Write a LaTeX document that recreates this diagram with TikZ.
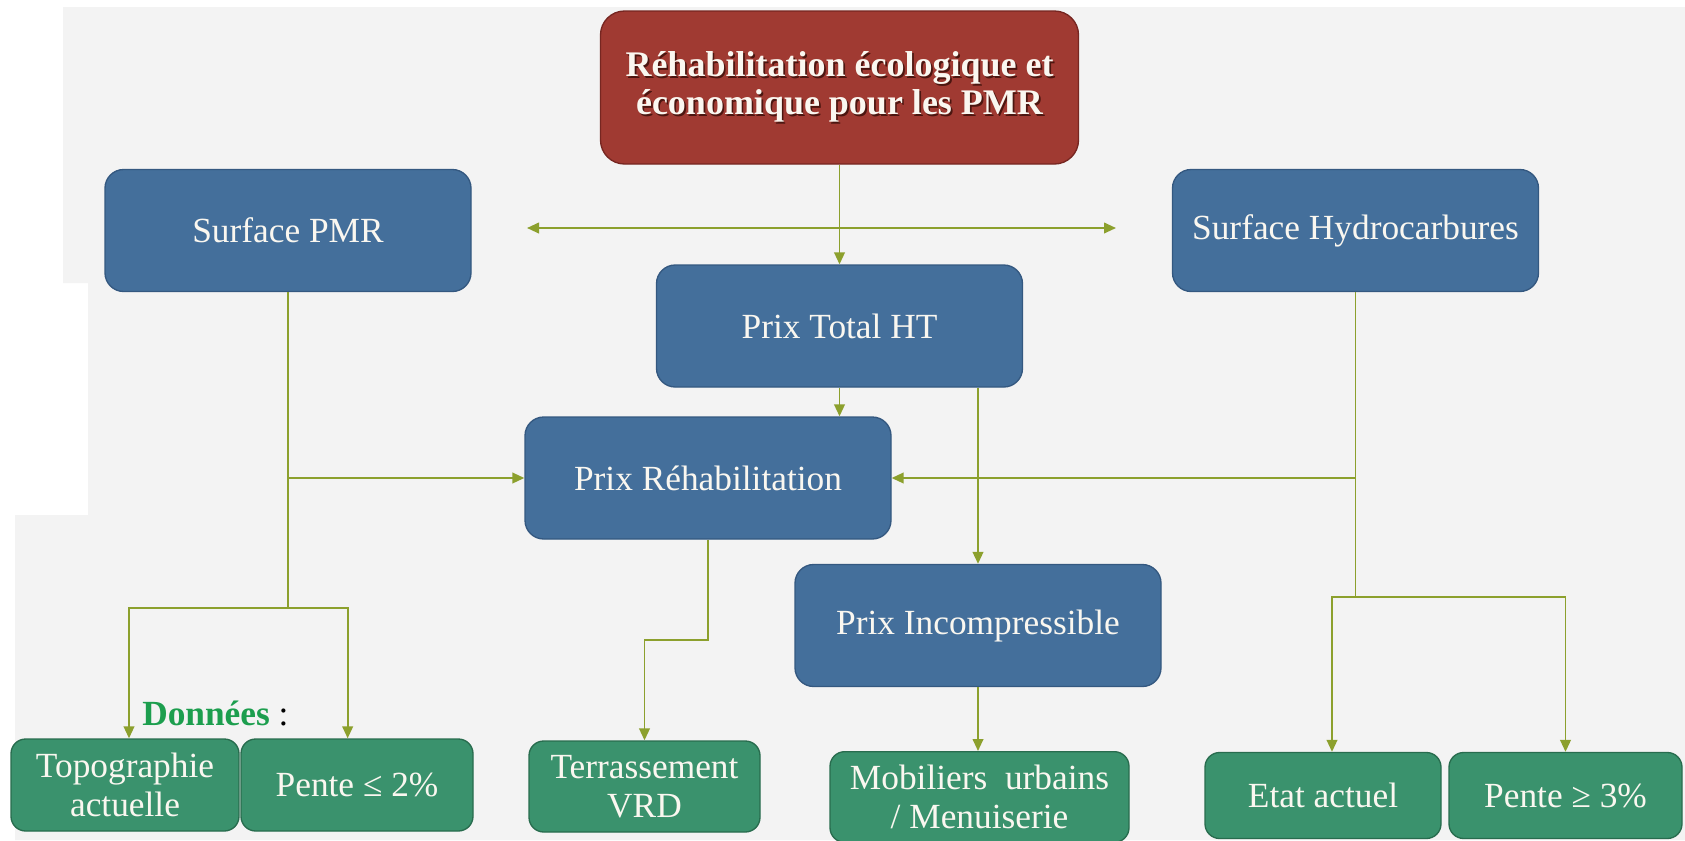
\documentclass[tikz,border=0pt]{standalone}
\usepackage{fontspec}
\setmainfont{Liberation Serif}
\usepackage{xcolor}
\usepackage{tikz}
\usetikzlibrary{arrows.meta}
\usetikzlibrary{calc,positioning}

% texte avec ombre portee (titre)
\newcommand{\ombre}[1]{\makebox[0pt][l]{\hspace{1.3pt}\raisebox{-1.3pt}{\color[RGB]{75,22,16}#1}}#1}

\begin{document}
\begin{tikzpicture}[x=0.75pt,y=0.75pt,yscale=-1,xscale=1,
  >={Triangle[length=9pt,width=8pt]},
  boite/.style={rounded corners=14pt, line width=1pt, inner sep=0pt, align=center,
    text={rgb, 255:red, 250; green, 247; blue, 240}, font=\fontsize{26.5}{29.5}\selectfont},
  titrebox/.style={boite, draw={rgb, 255:red, 118; green, 38; blue, 33}, fill={rgb, 255:red, 160; green, 58; blue, 50},
    rounded corners=18pt, minimum width=358.5pt, minimum height=114.75pt, font=\bfseries\fontsize{27}{28.5}\selectfont},
  bluebox/.style={boite, draw={rgb, 255:red, 52; green, 88; blue, 128}, fill={rgb, 255:red, 68; green, 111; blue, 155},
    minimum width=274.5pt, minimum height=91.5pt},
  greenbox/.style={boite, draw={rgb, 255:red, 40; green, 108; blue, 78}, fill={rgb, 255:red, 58; green, 146; blue, 109},
    rounded corners=11pt, minimum height=68.25pt},
  lien/.style={draw={rgb, 255:red, 140; green, 160; blue, 45}, line width=1.4pt},
  fleche/.style={lien, ->}
  ]
  %uncomment if require: \path (0,840); %diagram 1685 x 840

  % fond
  \fill [white] (0,0) rectangle (1685,840);
  \fill [color={rgb, 255:red, 243; green, 243; blue, 243 }] (63,7) -- (1685,7) -- (1685,840) -- (15,840) -- (15,515) -- (88,515) -- (88,283) -- (63,283) -- cycle;
  \useasboundingbox (0,0) rectangle (1685,840);

  %Rounded Rect (titre)
  \node [titrebox] (titre) at (839.5,87.5) {\ombre{Réhabilitation écologique et}\\\ombre{économique pour les PMR}};

  %Rounded Rect (surfaces et prix)
  \node [bluebox] (surfpmr) at (288,230.5) {Surface PMR};
  \node [bluebox] (surfhydro) at (1355.5,230.5) {Surface Hydrocarbures};
  \node [bluebox] (prixtotal) at (839.5,326) {Prix Total HT};
  \node [bluebox] (prixrehab) at (708,478) {Prix Réhabilitation};
  \node [bluebox] (prixincomp) at (978,625.5) {Prix Incompressible};

  %Rounded Rect (donnees)
  \node [greenbox, minimum width=171pt, minimum height=69pt] (topo) at (125,785) {Topographie\\actuelle};
  \node [greenbox, minimum width=174pt, minimum height=69pt] (pente2) at (357,785) {Pente ≤ 2\%};
  \node [greenbox, minimum width=173.25pt] (terrass) at (644.5,786.5) {Terrassement\\VRD};
  \node [greenbox, minimum width=224.25pt, minimum height=68pt] (mobil) at (979.5,797) {Mobiliers\ \ urbains\\/ Menuiserie};
  \node [greenbox, minimum width=177pt, minimum height=64.5pt] (etat) at (1323,795.5) {Etat actuel};
  \node [greenbox, minimum width=174.75pt, minimum height=64.5pt] (pente3) at (1565.5,795.5) {Pente ≥ 3\%};

  % Text Node
  \node [anchor=base west, inner sep=0pt, font=\fontsize{26.5}{29.5}\selectfont] (donnees) at (142,725) {\textbf{\color[RGB]{28,158,78}Données} :};

  % jonctions
  \coordinate (flecheG) at (527,228);
  \coordinate (flecheD) at (1116,228);
  \coordinate (jPMR) at (288,608);
  \coordinate (jHydro) at (1355.5,597);
  \coordinate (jRehab) at (708,640);

  % liaisons
  \draw [fleche] (titre) -- (prixtotal);
  \draw [lien, <->] (flecheG) -- (flecheD);
  \draw [fleche] (prixtotal.south) -- (prixtotal.south |- prixrehab.north);
  \draw [fleche] (prixincomp.north |- prixtotal.south) -- (prixincomp.north);

  \draw [lien] (surfpmr.south) -- (jPMR);
  \draw [fleche] (surfpmr.south |- prixrehab.west) -- (prixrehab.west);
  \draw [fleche] (jPMR) -| ([xshift=3pt]topo.north);
  \draw [fleche] (jPMR) -| ([xshift=-7pt]pente2.north);

  \draw [lien] (surfhydro.south) -- (jHydro);
  \draw [fleche] (surfhydro.south |- prixrehab.east) -- (prixrehab.east);
  \draw [fleche] (jHydro) -| ([xshift=6.75pt]etat.north);
  \draw [fleche] (jHydro) -| (pente3.north);

  \draw [fleche] (prixrehab.south) -- (jRehab) -| (terrass.north);
  \draw [fleche] (prixincomp.south) -- (prixincomp.south |- mobil.north);

\end{tikzpicture}
\end{document}
